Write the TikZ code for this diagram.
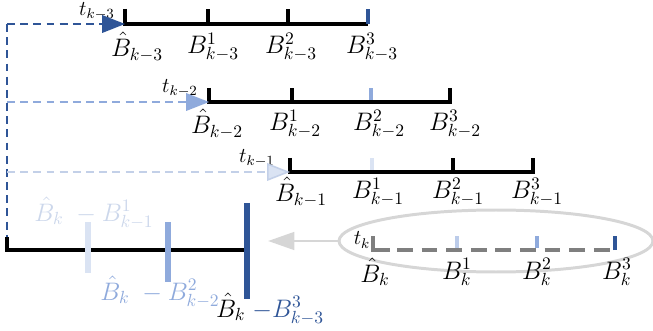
\documentclass[tikz,border=0pt]{standalone}
\usepackage{tikz}
\usetikzlibrary{arrows.meta,shapes.geometric}
\definecolor{bdark}{HTML}{2F5597}
\definecolor{bmid}{HTML}{8FAADC}
\definecolor{blight}{HTML}{DAE3F3}
\definecolor{blinedash}{HTML}{C3D0E8}
\definecolor{blabel}{HTML}{CCD7EB}
\definecolor{gring}{HTML}{D6D6D6}
\definecolor{gaxis}{HTML}{7F7F7F}
\tikzset{
  axisline/.style={line width=2.8pt, line join=miter},
  ktick/.style={line width=2.8pt},
  kbar/.style={line width=3.4pt},
  lbl/.style={inner sep=0pt, font=\fontsize{14}{17}\selectfont},
  tlbl/.style={inner sep=0pt, font=\fontsize{12}{14}\selectfont},
  feed/.style={line width=0.9pt, dash pattern=on 4.5pt off 3pt},
  tdark/.style={feed, draw=bdark, -{Triangle[length=13pt, width=10pt, fill=bdark]}},
  tmid/.style={feed, draw=bmid, -{Triangle[length=13pt, width=10pt, fill=bmid]}},
  tlight/.style={feed, draw=blinedash, -{Triangle[length=13pt, width=10pt, fill=blight]}},
  ring/.style={draw=gring, line width=1.7pt, ellipse, minimum width=6.28cm, minimum height=1.24cm, inner sep=0pt},
  back/.style={draw=gring, line width=1.7pt, -{Triangle[length=15pt, width=10pt, fill=gring]}},
}

\begin{document}
\begin{tikzpicture}[x=0.02cm, y=-0.02cm]
    \useasboundingbox (0,0) rectangle (653,331);
    % row k-3
    \coordinate (a0) at (125,24);
    \coordinate (a3) at (368,24);
    \draw[axisline] (125,9) -- (a0) -- (a3);
    \draw[ktick] (208,24) -- (208,9);
    \draw[ktick] (288,24) -- (288,9);
    \draw[ktick, bdark] (a3) -- (368,9);
    \node[tlbl] (ta) at (97,11) {$t_{k-3}$};
    \node[lbl] (la0) at (137,47) {$\hat{B}_{k-3}$};
    \node[lbl] (la1) at (213,47) {$B^1_{k-3}$};
    \node[lbl] (la2) at (291,47) {$B^2_{k-3}$};
    \node[lbl] (la3) at (372,47) {$B^3_{k-3}$};
    % row k-2
    \coordinate (b0) at (209,102);
    \coordinate (b3) at (450,102);
    \draw[axisline] (209,88) -- (b0) -- (b3) -- (450,88);
    \draw[ktick] (292,102) -- (292,88);
    \draw[ktick, bmid] (371,100) -- (371,88);
    \node[tlbl] (tb) at (180,88) {$t_{k-2}$};
    \node[lbl] (lb0) at (217,124) {$\hat{B}_{k-2}$};
    \node[lbl] (lb1) at (295,124) {$B^1_{k-2}$};
    \node[lbl] (lb2) at (379,124) {$B^2_{k-2}$};
    \node[lbl] (lb3) at (455,124) {$B^3_{k-2}$};
    % row k-1
    \coordinate (c0) at (290,172);
    \coordinate (c3) at (533,172);
    \draw[axisline] (290,158) -- (c0) -- (c3) -- (533,158);
    \draw[ktick] (453,172) -- (453,158);
    \draw[ktick, blight] (372,170) -- (372,158);
    \node[tlbl] (tc) at (257,158) {$t_{k-1}$};
    \node[lbl] (lc0) at (301,192) {$\hat{B}_{k-1}$};
    \node[lbl] (lc1) at (378,192) {$B^1_{k-1}$};
    \node[lbl] (lc2) at (458,192) {$B^2_{k-1}$};
    \node[lbl] (lc3) at (537,192) {$B^3_{k-1}$};
    % feedback lines
    \coordinate (fa) at (7,24);
    \coordinate (fb) at (7,102);
    \coordinate (fc) at (7,172);
    \coordinate (d0) at (7,237);
    \draw[feed, draw=bdark] (fa) -- (d0);
    \draw[tdark] (fa) -- (a0);
    \draw[tmid] (fb) -- (b0);
    \draw[tlight] (fc) -- (c0);
    % accumulated differences
    \coordinate (d3) at (247,250);
    \draw[axisline] (d0) -- (7,250) -- (d3);
    \draw[kbar, blight] (88,222) -- (88,273);
    \draw[kbar, bmid] (168,222) -- (168,282);
    \draw[kbar, bdark] (247,203) -- (247,299);
    \node[lbl, text=blabel] (ld1) at (94,213) {$\hat{B}_k\;-B^1_{k-1}$};
    \node[lbl, text=bmid] (ld2) at (160,292) {$\hat{B}_k\;-B^2_{k-2}$};
    \node[lbl] (ld3) at (270,309) {$\hat{B}_k\;\textcolor{bdark}{-B^3_{k-3}}$};
    % current step
    \node[ring] (cur) at (496,241) {};
    \coordinate (e0) at (373,250);
    \coordinate (e3) at (615,250);
    \draw[axisline, gaxis] (373,236) -- (e0) -- (390,250);
    \draw[axisline, gaxis, dash pattern=on 9pt off 5pt] (397,250) -- (e3);
    \draw[ktick, bmid!60] (457,248) -- (457,236);
    \draw[ktick, bmid] (537,248) -- (537,236);
    \draw[ktick, bdark] (e3) -- (615,236);
    \node[tlbl] (tk) at (362,240) {$t_k$};
    \node[lbl] (le0) at (375,272) {$\hat{B}_k$};
    \node[lbl] (le1) at (457,272) {$B^1_k$};
    \node[lbl] (le2) at (537,272) {$B^2_k$};
    \node[lbl] (le3) at (617,272) {$B^3_k$};
    \coordinate (ein) at (268,241);
    \draw[back] (cur.west) -- (ein);
  \end{tikzpicture}
\end{document}
